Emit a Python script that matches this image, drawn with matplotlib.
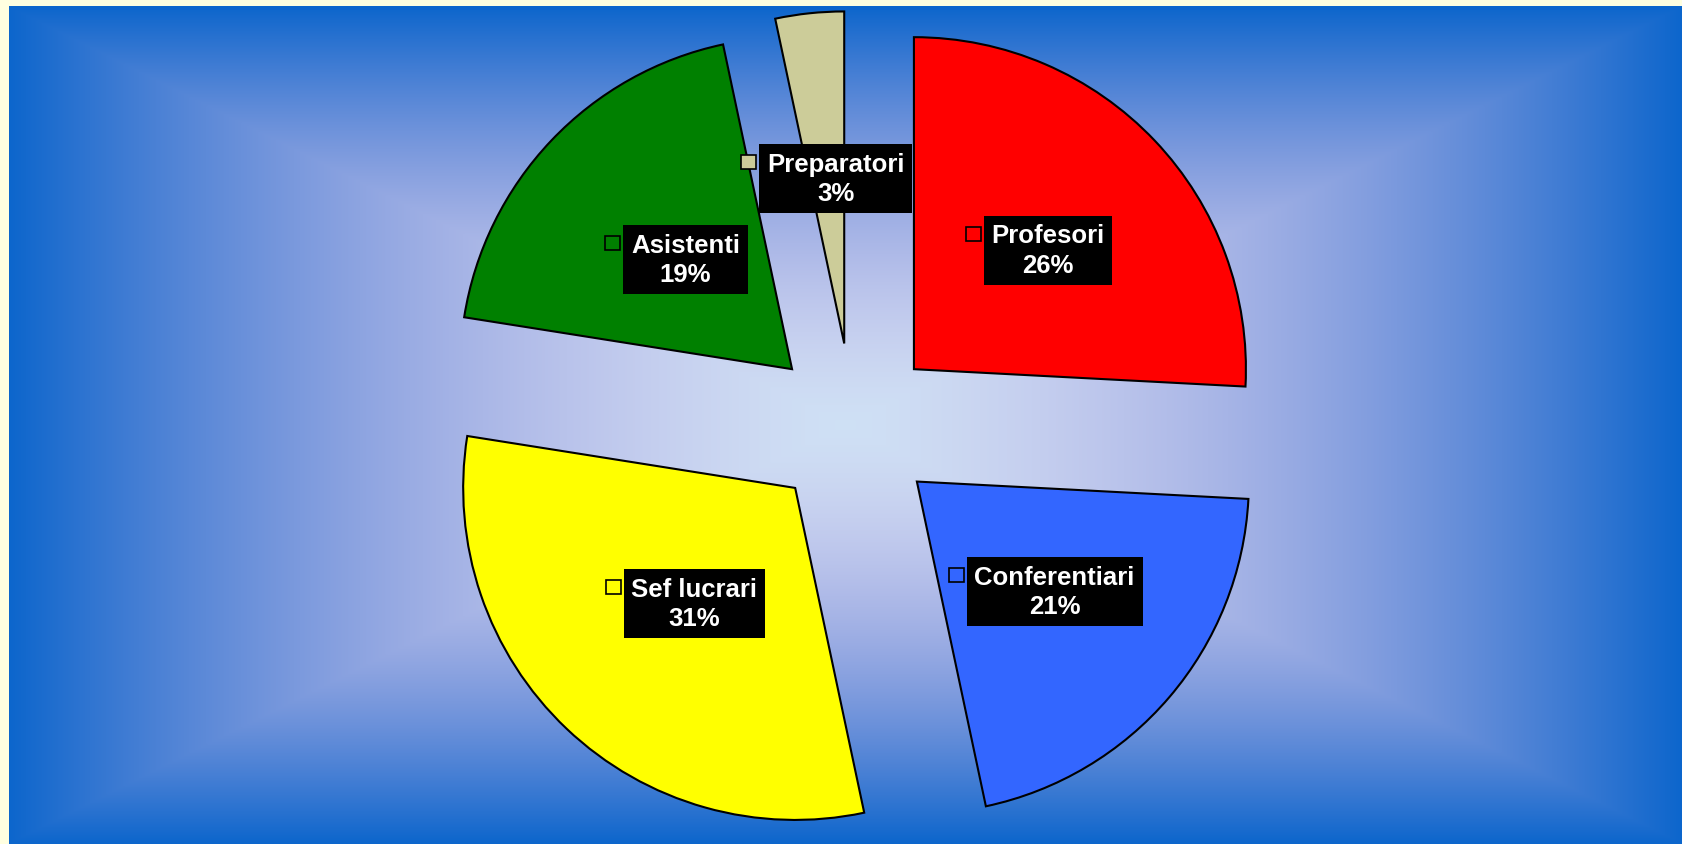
import numpy as np
import matplotlib
matplotlib.use('Agg')
import matplotlib.pyplot as plt
from matplotlib.patches import Rectangle

# staff categories, clockwise from 12 o'clock
categories = ['Profesori', 'Conferentiari', 'Sef lucrari', 'Asistenti', 'Preparatori']
# head counts (labels show 26/21/31/19/3 %)
counts = [31, 25, 37, 23, 4]
colours = ['#FF0000', '#3366FF', '#FFFF00', '#008000', '#CCCC99']
label_radius = [0.52, 0.51, 0.48, 0.48, 0.50]

W, H = 1682, 845
fig = plt.figure(figsize=(W / 100, H / 100), dpi=100, facecolor='#FFFFE0')

# rectangular gradient panel behind the pie
bg = fig.add_axes([9 / W, 0, 1 - 9 / W, (H - 7) / H])
bg.set_axis_off()
ny, nx = 420, 840
xx, yy = np.meshgrid(np.linspace(-1, 1, nx), np.linspace(-1, 1, ny))
t = np.maximum(np.abs(xx), np.abs(yy))
centre = np.array([0.81, 0.88, 0.96])
edge = np.array([0.05, 0.40, 0.80])
power = np.array([2.0, 1.3, 1.3])
img = centre + (edge - centre) * t[..., None] ** power
bg.imshow(img, aspect='auto', extent=[0, 1, 0, 1], interpolation='bilinear')

ax = fig.add_axes([0, 0, 1, 1])
ax.patch.set_visible(False)
wedges, _ = ax.pie(counts, colors=colours, startangle=90, counterclock=False,
                   explode=[0.253] * len(counts), radius=1,
                   wedgeprops=dict(edgecolor='black', linewidth=1.5))
R = 332
cx, cy = 853, 428
ax.set_xlim(-cx / R, (W - cx) / R)
ax.set_ylim(-(H - cy) / R, cy / R)
ax.set_aspect('auto')
ax.set_axis_off()

total = sum(counts)
labels = []
for w, name, n, f in zip(wedges, categories, counts, label_radius):
    ang = np.deg2rad((w.theta1 + w.theta2) / 2)
    x = w.center[0] + f * np.cos(ang)
    y = w.center[1] + f * np.sin(ang)
    txt = ax.annotate(f'{name}\n{round(100 * n / total)}%', xy=(x, y), xytext=(9, 0),
                      textcoords='offset pixels', ha='center', va='center',
                      color='white', fontsize=18.5, fontweight='bold',
                      family='Liberation Sans', linespacing=1.3,
                      bbox=dict(boxstyle='square,pad=0.3', fc='black', ec='none'))
    labels.append(txt)

# small legend keys to the left of each label box
fig.canvas.draw()
renderer = fig.canvas.get_renderer()
inv = fig.transFigure.inverted()
for txt, col in zip(labels, colours):
    bb = txt.get_bbox_patch().get_window_extent(renderer)
    x0, y0 = bb.x0 - 3 - 15, bb.y1 - 25
    fx0, fy0 = inv.transform((x0, y0))
    fx1, fy1 = inv.transform((x0 + 15, y0 + 14))
    fig.add_artist(Rectangle((fx0, fy0), fx1 - fx0, fy1 - fy0, transform=fig.transFigure,
                             fc=col, ec='black', lw=1.2))

fig.savefig('out.png', dpi=100, facecolor=fig.get_facecolor())
